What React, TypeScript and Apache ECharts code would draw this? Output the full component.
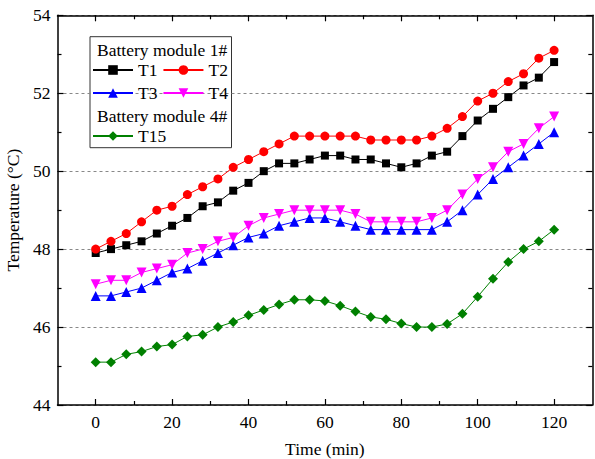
import React, { useEffect, useRef } from "react";
import * as echarts from "echarts";

const TIME = [0, 4, 8, 12, 16, 20, 24, 28, 32, 36, 40, 44, 48, 52, 56, 60, 64, 68, 72, 76, 80, 84, 88, 92, 96, 100, 104, 108, 112, 116, 120];
const T1 = [47.9, 48.0, 48.1, 48.2, 48.4, 48.6, 48.8, 49.1, 49.2, 49.5, 49.7, 50.0, 50.2, 50.2, 50.3, 50.4, 50.4, 50.3, 50.3, 50.2, 50.1, 50.2, 50.4, 50.5, 50.9, 51.3, 51.6, 51.9, 52.2, 52.4, 52.8];
const T2 = [48.0, 48.2, 48.4, 48.7, 49.0, 49.1, 49.4, 49.6, 49.8, 50.1, 50.3, 50.5, 50.7, 50.9, 50.9, 50.9, 50.9, 50.9, 50.8, 50.8, 50.8, 50.8, 50.9, 51.1, 51.4, 51.8, 52.0, 52.3, 52.5, 52.9, 53.1];
const T3 = [46.8, 46.8, 46.9, 47.0, 47.2, 47.4, 47.5, 47.7, 47.9, 48.1, 48.3, 48.4, 48.6, 48.7, 48.8, 48.8, 48.7, 48.6, 48.5, 48.5, 48.5, 48.5, 48.5, 48.7, 49.0, 49.4, 49.8, 50.1, 50.4, 50.7, 51.0];
const T4 = [47.1, 47.2, 47.2, 47.4, 47.5, 47.6, 47.9, 48.0, 48.2, 48.3, 48.6, 48.8, 48.9, 49.0, 49.0, 49.0, 49.0, 48.9, 48.7, 48.7, 48.7, 48.7, 48.8, 49.0, 49.4, 49.8, 50.1, 50.5, 50.7, 51.1, 51.4];
const T15 = [45.1, 45.1, 45.3, 45.37, 45.5, 45.55, 45.76, 45.8, 46.0, 46.13, 46.3, 46.44, 46.58, 46.7, 46.7, 46.67, 46.55, 46.4, 46.26, 46.2, 46.09, 46.0, 46.0, 46.08, 46.34, 46.78, 47.24, 47.67, 48.0, 48.2, 48.5];

const X_MAJOR = [0, 20, 40, 60, 80, 100, 120];
const X_MINOR = [10, 30, 50, 70, 90, 110];
const GROUP1_TITLE = "Battery module 1#";
const GROUP2_TITLE = "Battery module 4#";

const FONT = "'Liberation Serif', 'Times New Roman', serif";
const FS = 17.5;

function zip(vals: number[]) {
  return TIME.map((t, i) => [t, vals[i]]);
}

export default function App() {
  const ref = useRef<HTMLDivElement>(null);
  useEffect(() => {
    if (!ref.current) return;
    const chart = echarts.init(ref.current, undefined, { renderer: "svg" });
    const axisLine = { show: true, onZero: false, lineStyle: { color: "#000", width: 1.5 } };
    const noLine = { show: false, onZero: false };
    const tickStyle = { color: "#000", width: 1.2 };
    const xBase = { type: "value", min: -10, max: 130, gridIndex: 0, splitLine: { show: false } };
    const legendCommon = {
      orient: "horizontal",
      itemWidth: 40,
      itemHeight: 12,
      itemGap: 5,
      padding: 0,
      selectedMode: false,
      textStyle: { fontFamily: FONT, fontSize: FS, color: "#000" },
    };
    const mk = (name: string, vals: number[], color: string, symbol: string, size: number, rotate = 0) => ({
      name,
      type: "line",
      xAxisIndex: 0,
      yAxisIndex: 0,
      data: zip(vals),
      symbol,
      symbolSize: size,
      symbolRotate: rotate,
      showSymbol: true,
      lineStyle: { color, width: 1 },
      itemStyle: { color },
      emphasis: { disabled: true },
    });
    chart.setOption({
      animation: false,
      backgroundColor: "#fff",
      textStyle: { fontFamily: FONT },
      grid: { left: 57.5, right: 2.7, top: 15.3, bottom: 54, containLabel: false, outerBoundsMode: "none" },
      xAxis: [
        {
          ...xBase,
          position: "bottom",
          axisLine,
          axisTick: { show: true, inside: true, length: 6, customValues: X_MAJOR, lineStyle: tickStyle },
          axisLabel: { show: true, customValues: X_MAJOR, margin: 8, fontFamily: FONT, fontSize: FS, color: "#000" },
          name: "Time (min)",
          nameLocation: "middle",
          nameGap: 35,
          nameTextStyle: { fontFamily: FONT, fontSize: FS, color: "#000" },
        },
        {
          ...xBase,
          position: "bottom",
          axisLine: noLine,
          axisTick: { show: true, inside: true, length: 4, customValues: X_MINOR, lineStyle: tickStyle },
          axisLabel: { show: false },
        },
        {
          ...xBase,
          position: "top",
          axisLine,
          axisTick: { show: true, inside: true, length: 6, customValues: X_MAJOR, lineStyle: tickStyle },
          axisLabel: { show: false },
        },
        {
          ...xBase,
          position: "top",
          axisLine: noLine,
          axisTick: { show: true, inside: true, length: 4, customValues: X_MINOR, lineStyle: tickStyle },
          axisLabel: { show: false },
        },
      ],
      yAxis: [
        {
          type: "value",
          min: 44,
          max: 54,
          interval: 2,
          position: "left",
          axisLine,
          axisTick: { show: true, inside: true, length: 6, lineStyle: tickStyle },
          minorTick: { show: true, splitNumber: 2, length: 4, lineStyle: tickStyle },
          axisLabel: { margin: 7, fontFamily: FONT, fontSize: FS, color: "#000" },
          splitLine: { show: true, lineStyle: { color: "#888", width: 1, type: [3, 3] } },
          name: "Temperature (°C)",
          nameLocation: "middle",
          nameGap: 26,
          nameTextStyle: { fontFamily: FONT, fontSize: FS, color: "#000" },
        },
        {
          type: "value",
          min: 44,
          max: 54,
          interval: 2,
          position: "right",
          axisLine,
          axisTick: { show: true, inside: true, length: 6, lineStyle: tickStyle },
          minorTick: { show: true, splitNumber: 2, length: 4, lineStyle: tickStyle },
          axisLabel: { show: false },
          splitLine: { show: false },
        },
      ],
      legend: [
        { ...legendCommon, left: 92, top: 61, data: ["T1", "T2"] },
        { ...legendCommon, left: 92, top: 84, data: ["T3", "T4"] },
        { ...legendCommon, left: 92, top: 127, data: ["T15"] },
      ],
      graphic: [
        {
          type: "rect",
          shape: { x: 90, y: 36.7, width: 141.5, height: 111 },
          style: { fill: "#fff", stroke: "#333", lineWidth: 1 },
          z: 0,
        },
        {
          type: "text",
          x: 97,
          y: 50,
          style: { text: GROUP1_TITLE, fontFamily: FONT, fontSize: FS, fill: "#000", verticalAlign: "middle" },
          z: 10,
        },
        {
          type: "text",
          x: 97,
          y: 116,
          style: { text: GROUP2_TITLE, fontFamily: FONT, fontSize: FS, fill: "#000", verticalAlign: "middle" },
          z: 10,
        },
      ],
      series: [
        mk("T1", T1, "#000000", "rect", 8),
        mk("T2", T2, "#ff0000", "circle", 9),
        mk("T3", T3, "#0000ff", "triangle", 10),
        mk("T4", T4, "#ff00ff", "triangle", 10, 180),
        mk("T15", T15, "#008000", "diamond", 10),
      ],
    });
    return () => chart.dispose();
  }, []);
  return <div ref={ref} style={{ position: "fixed", left: 0, top: 0, width: 595, height: 459 }} />;
}
